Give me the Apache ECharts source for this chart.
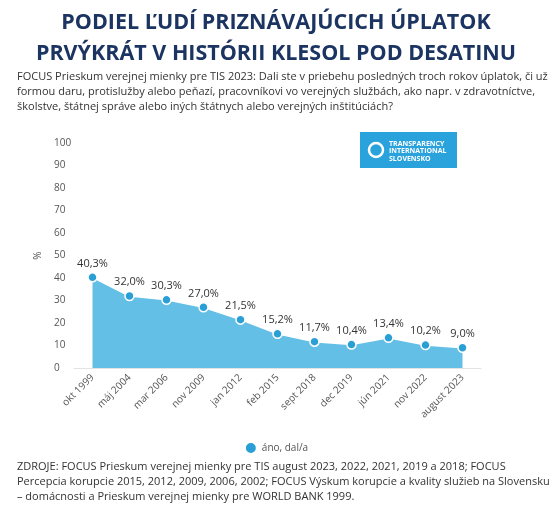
<!DOCTYPE html>
<html>
<head>
<meta charset="utf-8">
<script src="https://cdn.jsdelivr.net/npm/echarts@6/dist/echarts.min.js"></script>
<style>
  html, body { margin: 0; padding: 0; background: #fff; }
  #chart { width: 552px; height: 513px; }
</style>
</head>
<body>
<div id="chart"></div>
<script>
// data
var categories = ["okt 1999", "máj 2004", "mar 2006", "nov 2009", "jan 2012", "feb 2015",
  "sept 2018", "dec 2019", "jún 2021", "nov 2022", "august 2023"];
var values = [40.3, 32.0, 30.3, 27.0, 21.5, 15.2, 11.7, 10.4, 13.4, 10.2, 9.0];
var seriesName = "áno, dal/a";
var titleLines = ["PODIEL ĽUDÍ PRIZNÁVAJÚCICH ÚPLATOK", "PRVÝKRÁT V HISTÓRII KLESOL POD DESATINU"];
var questionLines = [
  "FOCUS Prieskum verejnej mienky pre TIS 2023: Dali ste v priebehu posledných troch rokov úplatok, či už",
  "formou daru, protislužby alebo peňazí, pracovníkovi vo verejných službách, ako napr. v zdravotníctve,",
  "školstve, štátnej správe alebo iných štátnych alebo verejných inštitúciách?"
];
var sourceLines = [
  "ZDROJE: FOCUS Prieskum verejnej mienky pre TIS august 2023, 2022, 2021, 2019 a 2018; FOCUS",
  "Percepcia korupcie 2015, 2012, 2009, 2006, 2002; FOCUS Výskum korupcie a kvality služieb na Slovensku",
  "– domácnosti a Prieskum verejnej mienky pre WORLD BANK 1999."
];

var chart = echarts.init(document.getElementById("chart"));
var font = "'Open Sans', sans-serif";

var graphics = [];
titleLines.forEach(function (t, i) {
  graphics.push({
    type: "text", left: "center", top: 12 + i * 31,
    style: { text: t, font: "bold 21.5px " + font, fill: "#1c3461" }
  });
});
questionLines.forEach(function (t, i) {
  graphics.push({
    type: "text", left: 17, top: 71 + i * 15,
    style: { text: t, font: "11px " + font, fill: "#333" }
  });
});
sourceLines.forEach(function (t, i) {
  graphics.push({
    type: "text", left: 17, top: 461 + i * 15,
    style: { text: t, font: "11px " + font, fill: "#333" }
  });
});
// logo
graphics.push({
  type: "group", left: 360, top: 132,
  children: [
    { type: "rect", shape: { x: 0, y: 0, width: 97, height: 36 }, style: { fill: "#2aa3dd" } },
    { type: "circle", shape: { cx: 16, cy: 18, r: 7 }, style: { fill: "none", stroke: "#fff", lineWidth: 2.5 } },
    { type: "text", left: 29, top: 8, style: { text: "TRANSPARENCY\nINTERNATIONAL\nSLOVENSKO", font: "bold 7px " + font, fill: "#fff", lineHeight: 7.5 } }
  ]
});

var option = {
  animation: false,
  textStyle: { fontFamily: font },
  grid: { left: 74, right: 71, top: 143, bottom: 145 },
  legend: {
    bottom: 53, left: "center",
    icon: "circle", itemWidth: 12, itemHeight: 12, itemGap: 10,
    textStyle: { fontSize: 10, color: "#555" },
    data: [seriesName]
  },
  xAxis: {
    type: "category",
    data: categories,
    axisTick: { show: false },
    axisLine: { lineStyle: { color: "#e3e3e3" } },
    axisLabel: { rotate: 45, fontSize: 10, color: "#555", margin: 8, interval: 0 }
  },
  yAxis: {
    type: "value", min: 0, max: 100, interval: 10,
    name: "%", nameLocation: "middle", nameGap: 31, nameRotate: 90,
    nameTextStyle: { fontSize: 10, color: "#555" },
    splitLine: { show: false },
    axisLine: { show: false },
    axisTick: { show: false },
    axisLabel: { align: "left", margin: 20, fontSize: 10, color: "#555", padding: [0, 0, 8, 0] }
  },
  series: [{
    name: seriesName,
    type: "line",
    data: values,
    symbol: "circle",
    symbolSize: 9,
    itemStyle: { color: "#2a9fd6", borderColor: "#fff", borderWidth: 1.5 },
    lineStyle: { color: "#fff", width: 1.5 },
    areaStyle: { color: "#64bfe7", opacity: 1 },
    label: {
      show: true, position: "top", distance: 3,
      fontSize: 11, color: "#333",
      formatter: function (p) { return p.value.toFixed(1).replace(".", ",") + "%"; }
    }
  }],
  graphic: graphics
};
chart.setOption(option);
</script>
</body>
</html>
